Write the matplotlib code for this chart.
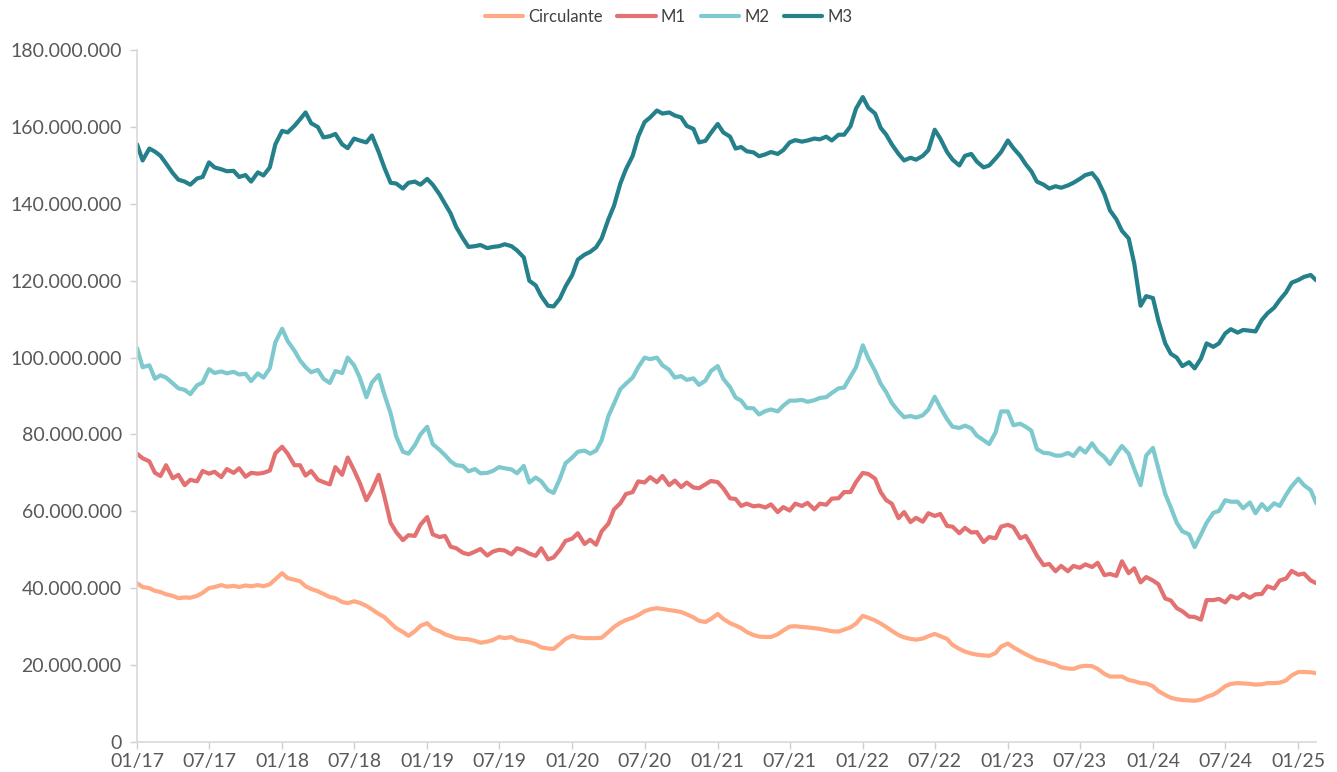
import matplotlib.pyplot as plt
import matplotlib.dates as mdates
import matplotlib.ticker as mticker
import pandas as pd

# datas quinzenais (1 e 15 de cada mês), jan/2017 a fev/2025
datas = pd.date_range('2017-01-01', periods=196, freq='SMS')

# valores em milhões
circulante = [
    41.3, 40.3, 40.0, 39.3, 39.0, 38.4, 38.0, 37.4, 37.6, 37.5, 38.0, 38.8,
    40.0, 40.3, 40.8, 40.4, 40.6, 40.3, 40.7, 40.5, 40.8, 40.5, 41.0, 42.3,
    43.9, 42.6, 42.2, 41.8, 40.5, 39.8, 39.2, 38.5, 37.7, 37.4, 36.4, 36.1,
    36.6, 36.2, 35.4, 34.5, 33.3, 32.5, 30.9, 29.6, 28.6, 27.6, 28.8, 30.2,
    30.9, 29.5, 28.8, 28.0, 27.5, 27.0, 26.8, 26.7, 26.3, 25.8, 26.1, 26.5,
    27.3, 27.0, 27.3, 26.5, 26.2, 25.9, 25.4, 24.6, 24.3, 24.2, 25.5, 26.8,
    27.6, 27.2, 27.0, 27.0, 27.0, 27.1, 28.6, 29.9, 31.0, 31.7, 32.3, 33.0,
    34.0, 34.5, 34.8, 34.6, 34.3, 34.1, 33.8, 33.2, 32.4, 31.5, 31.2, 32.0,
    33.3, 32.0, 30.9, 30.3, 29.6, 28.6, 27.8, 27.4, 27.3, 27.3, 28.0, 29.0,
    30.0, 30.1, 29.9, 29.8, 29.6, 29.4, 29.1, 28.8, 28.7, 29.2, 29.8, 30.8,
    32.8, 32.3, 31.6, 30.8, 29.9, 28.9, 27.8, 27.2, 26.8, 26.6, 26.9, 27.5,
    28.1, 27.5, 26.8, 25.2, 24.2, 23.5, 23.0, 22.7, 22.5, 22.4, 23.1, 24.8,
    25.6, 24.6, 23.6, 22.8, 22.1, 21.4, 21.0, 20.5, 20.1, 19.4, 19.1, 19.0,
    19.6, 19.8, 19.7, 19.0, 17.7, 17.0, 17.0, 17.0, 16.1, 15.8, 15.3, 15.2,
    14.5, 13.2, 12.2, 11.5, 11.1, 10.9, 10.8, 10.7, 11.0, 11.7, 12.3, 13.2,
    14.5, 15.1, 15.3, 15.2, 15.1, 14.9, 15.0, 15.3, 15.3, 15.4, 16.0, 17.3,
    18.2, 18.2, 18.1, 17.9,
]

m1 = [
    75.0, 73.8, 73.0, 70.0, 69.2, 72.0, 68.6, 69.5, 66.8, 68.2, 67.8, 70.5,
    69.8, 70.3, 68.9, 71.0, 70.0, 71.2, 69.0, 70.0, 69.8, 70.0, 70.6, 75.1,
    76.8, 75.0, 72.0, 72.0, 69.3, 70.5, 68.2, 67.6, 67.0, 71.5, 69.5, 74.0,
    70.7, 67.5, 62.9, 65.5, 69.5, 64.0, 57.0, 54.6, 52.5, 53.8, 53.6, 56.5,
    58.5, 54.0, 53.3, 53.6, 50.8, 50.4, 49.2, 48.8, 49.5, 50.2, 48.5, 49.5,
    50.0, 49.8, 48.8, 50.4, 49.8, 49.0, 48.4, 50.4, 47.5, 48.0, 50.0, 52.3,
    52.9, 54.3, 51.5, 52.6, 51.3, 54.8, 56.8, 60.5, 62.1, 64.5, 65.0, 67.8,
    67.5, 68.9, 67.6, 69.2, 66.8, 68.0, 66.3, 67.5, 66.2, 66.0, 67.0, 67.9,
    67.6, 66.0, 63.4, 63.2, 61.4, 62.0, 61.3, 61.5, 61.0, 61.8, 59.8, 61.1,
    60.2, 62.0, 61.4, 62.2, 60.5, 62.0, 61.7, 63.3, 63.4, 65.0, 65.0, 67.6,
    70.0, 69.7, 68.5, 65.0, 62.9, 62.0, 58.2, 59.8, 57.2, 58.3, 57.3, 59.5,
    58.8, 59.3, 56.2, 56.0, 54.3, 55.7, 54.5, 54.6, 52.0, 53.3, 53.0, 56.0,
    56.5, 55.9, 53.0, 53.6, 51.2, 48.5, 46.0, 46.3, 44.4, 45.8, 44.4, 45.8,
    45.3, 46.2, 45.5, 46.6, 43.4, 43.7, 43.2, 47.0, 43.9, 45.2, 41.5, 42.9,
    42.0, 41.0, 37.3, 36.8, 34.8, 34.0, 32.6, 32.5, 31.8, 36.9, 36.9, 37.2,
    36.3, 38.0, 37.3, 38.5, 37.5, 38.4, 38.5, 40.5, 39.9, 42.0, 42.5, 44.5,
    43.5, 43.8, 42.0, 41.3,
]

m2 = [
    102.5, 97.5, 98.0, 94.5, 95.4, 94.8, 93.3, 92.0, 91.6, 90.5, 92.8, 93.5,
    97.0, 96.0, 96.4, 95.9, 96.3, 95.6, 95.8, 93.9, 95.9, 94.8, 97.2, 104.0,
    107.5, 104.3, 101.8, 99.3, 97.5, 96.2, 96.8, 94.5, 93.4, 96.5, 96.0, 100.0,
    98.0, 94.9, 89.7, 93.5, 95.5, 90.5, 85.5, 79.5, 75.5, 75.0, 77.2, 80.0,
    82.0, 77.5, 76.0, 74.6, 73.0, 72.0, 71.8, 70.4, 71.0, 69.9, 70.0, 70.5,
    71.5, 71.2, 70.9, 69.9, 71.8, 67.5, 68.8, 67.8, 65.5, 64.8, 68.5, 72.5,
    74.0, 75.5, 75.8, 75.0, 75.8, 78.5, 84.8, 88.0, 91.8, 93.2, 94.8, 97.5,
    100.0, 99.6, 100.0, 98.0, 96.8, 94.8, 95.2, 94.2, 94.6, 92.9, 94.0, 96.5,
    97.8, 94.5, 92.3, 89.6, 88.8, 86.9, 86.8, 85.2, 86.1, 86.5, 86.0, 87.5,
    88.8, 88.8, 89.0, 88.5, 88.9, 89.5, 89.7, 90.8, 92.0, 92.2, 95.0, 97.5,
    103.2, 99.8, 96.5, 93.2, 91.0, 88.2, 86.0, 84.5, 84.8, 84.4, 85.0, 86.5,
    89.8, 87.0, 84.0, 82.0, 81.7, 82.3, 81.6, 79.7, 78.5, 77.5, 80.5, 86.0,
    86.0, 82.4, 82.8, 82.0, 81.0, 76.2, 75.2, 75.1, 74.5, 74.5, 75.2, 74.4,
    76.5, 75.3, 77.7, 75.6, 74.1, 72.3, 75.0, 77.0, 75.0, 71.0, 66.8, 74.5,
    76.5, 71.0, 64.5, 61.0, 57.0, 54.8, 54.0, 50.7, 54.0, 57.0, 59.6, 60.1,
    62.9, 62.5, 62.5, 60.8, 62.3, 59.5, 61.9, 60.3, 62.1, 61.4, 64.3, 66.5,
    68.5, 66.8, 65.5, 62.1,
]

m3 = [
    155.5, 151.3, 154.4, 153.6, 152.5, 150.5, 148.0, 146.3, 145.8, 145.0, 146.6, 147.0,
    150.8, 149.5, 149.0, 148.5, 148.6, 147.0, 147.5, 145.8, 148.2, 147.4, 149.5, 155.5,
    159.0, 158.6, 160.3, 162.0, 163.8, 161.0, 160.0, 157.3, 157.6, 158.2, 155.5, 154.5,
    157.0, 156.5, 156.0, 157.8, 153.5, 149.5, 145.5, 145.3, 144.0, 145.5, 145.8, 145.0,
    146.5, 145.0, 142.5, 140.0, 137.5, 134.0, 131.0, 128.8, 129.0, 129.3, 128.5, 128.8,
    129.0, 129.5, 129.0, 127.9, 126.1, 120.0, 118.8, 116.0, 113.5, 113.3, 115.4, 118.5,
    121.5, 125.5, 126.8, 127.5, 128.7, 131.0, 136.0, 139.5, 145.3, 149.0, 152.5, 157.5,
    161.3, 162.5, 164.3, 163.5, 163.8, 163.0, 162.5, 160.3, 159.5, 156.0, 156.4, 158.5,
    160.8, 158.6, 157.5, 154.4, 154.8, 153.7, 153.4, 152.4, 152.9, 153.5, 153.0, 154.0,
    156.0, 156.6, 156.2, 156.5, 157.0, 156.8, 157.5, 156.5, 158.0, 158.0, 160.2, 164.8,
    167.8, 165.0, 163.5, 159.8, 158.0, 155.5, 153.0, 151.3, 152.0, 151.5, 152.5, 154.0,
    159.3, 157.0, 153.5, 151.5, 150.0, 152.5, 153.0, 151.0, 149.5, 150.0, 151.8, 153.5,
    156.5, 154.5, 152.5, 150.3, 148.5, 145.8, 145.0, 144.0, 144.6, 144.2, 144.8, 145.5,
    146.5, 147.5, 148.0, 146.2, 142.5, 138.3, 136.0, 133.0, 131.0, 124.5, 113.5, 116.0,
    115.5, 109.5, 103.7, 101.0, 100.0, 97.8, 98.8, 97.2, 99.8, 103.7, 102.8, 103.7,
    106.3, 107.4, 106.5, 107.2, 107.0, 106.8, 109.8, 111.5, 113.0, 115.0, 117.0, 119.5,
    120.2, 121.0, 121.5, 120.1,
]

series = [
    ('Circulante', circulante, '#FFAA84'),
    ('M1', m1, '#E47171'),
    ('M2', m2, '#7DC9CD'),
    ('M3', m3, '#24808A'),
]

plt.rcParams['font.family'] = ['Lato', 'DejaVu Sans']

fig = plt.figure(figsize=(13.37, 7.72), dpi=100)
ax = fig.add_axes([0.1025, 0.039, 0.882, 0.896])

for nome, valores, cor in series:
    ax.plot(datas, [v * 1e6 for v in valores], color=cor, lw=3.0,
            label=nome, solid_joinstyle='round', solid_capstyle='round')

ax.set_ylim(0, 180e6)
ax.set_xlim(datas[0], datas[-1])
ax.yaxis.set_major_locator(mticker.MultipleLocator(20e6))
ax.yaxis.set_major_formatter(
    mticker.FuncFormatter(lambda v, p: f'{int(v):,}'.replace(',', '.')))
ax.xaxis.set_major_locator(mdates.MonthLocator(bymonth=[1, 7]))
ax.xaxis.set_major_formatter(mdates.DateFormatter('%m/%y'))

for lado in ['top', 'right']:
    ax.spines[lado].set_visible(False)
for lado in ['left', 'bottom']:
    ax.spines[lado].set_color('#D9D9D9')
    ax.spines[lado].set_linewidth(1.2)
ax.tick_params(axis='both', colors='#D0D0D0', length=5, width=1,
               labelcolor='#595959', labelsize=14)
ax.tick_params(axis='x', pad=3)
ax.tick_params(axis='y', pad=6)

fig.legend(loc='upper center', bbox_to_anchor=(0.5, 1.008), ncol=4,
           frameon=False, fontsize=12, handlelength=2.3,
           columnspacing=0.9, handletextpad=0.3, labelcolor='#404040')

plt.savefig('out.png', dpi=100)
